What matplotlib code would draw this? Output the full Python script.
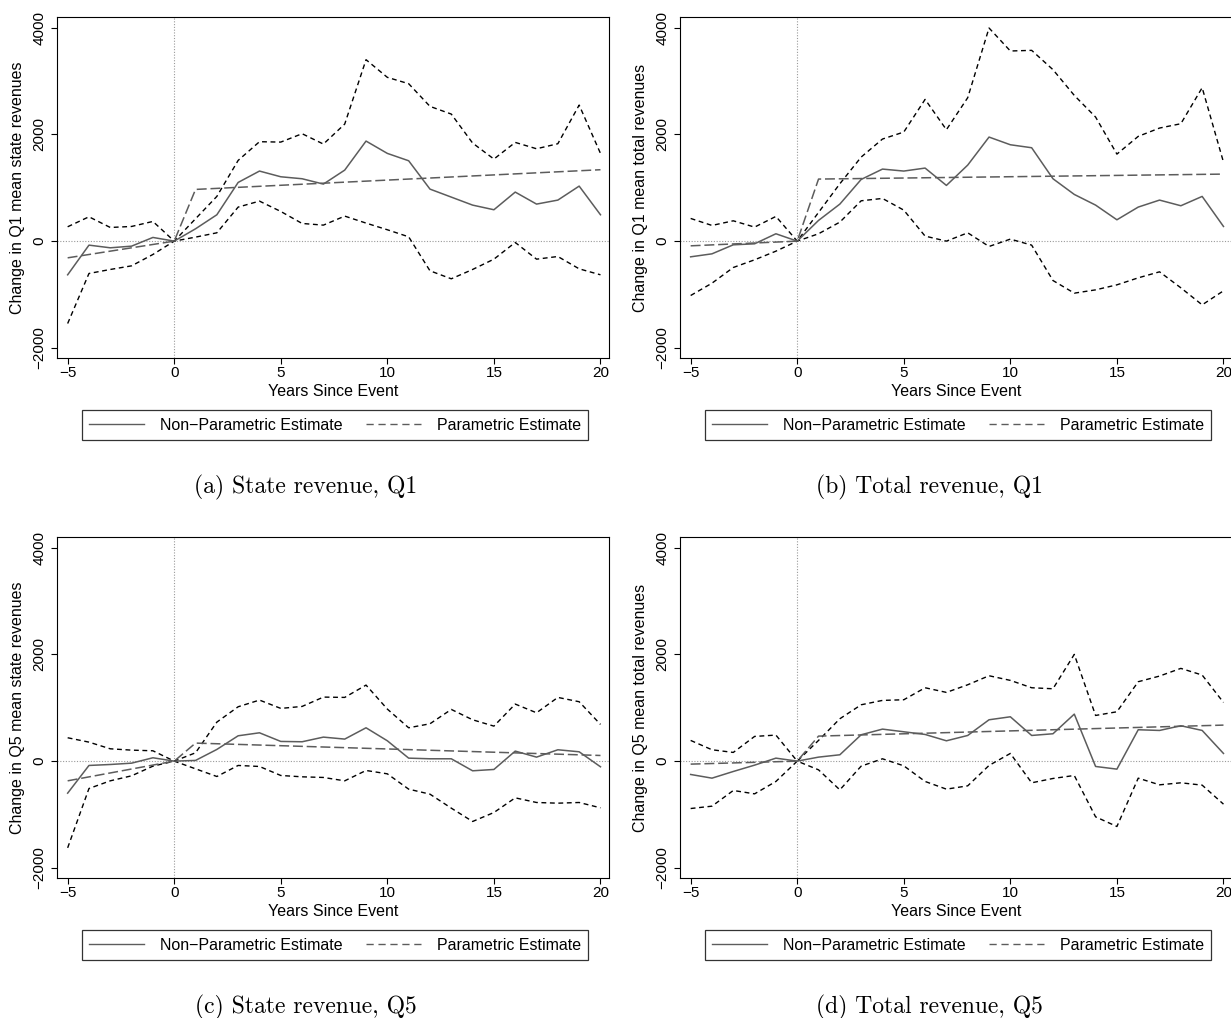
import numpy as np
import matplotlib

matplotlib.use("Agg")
import matplotlib.pyplot as plt
from matplotlib.lines import Line2D

plt.rcParams["font.family"] = ["Liberation Sans", "DejaVu Sans"]

"""
Values read off the four event-study panels
"""

years = list(range(-5, 21))
param_years = [-5, 0, 1, 20]

# (a) State revenue, Q1
a_est = [-631, -75, -125, -94, 69, 0, 231, 494, 1100, 1313, 1206, 1169, 1069,
         1331, 1875, 1644, 1506, 975, 825, 675, 588, 919, 694, 769, 1031, 494]
a_hi = [269, 456, 256, 275, 369, 0, 419, 838, 1513, 1863, 1856, 2013, 1819,
        2194, 3400, 3069, 2950, 2525, 2381, 1838, 1538, 1850, 1731, 1825, 2550, 1644]
a_lo = [-1544, -606, -531, -463, -250, 0, 75, 156, 638, 750, 556, 331, 300,
        469, 338, 213, 81, -556, -706, -531, -338, -25, -338, -288, -519, -631]
a_par = [-313, 0, 969, 1338]

# (b) Total revenue, Q1
b_est = [-294, -238, -69, -50, 138, 0, 388, 694, 1156, 1350, 1313, 1369, 1044,
         1425, 1950, 1806, 1750, 1169, 875, 675, 400, 638, 769, 663, 838, 275]
b_hi = [425, 294, 381, 263, 463, 0, 538, 1075, 1575, 1913, 2044, 2656, 2088,
        2688, 3994, 3563, 3575, 3213, 2731, 2325, 1631, 1963, 2119, 2200, 2875, 1481]
b_lo = [-1019, -788, -494, -350, -188, 0, 138, 356, 756, 800, 581, 94, 0,
        156, -100, 38, -75, -738, -975, -913, -819, -688, -575, -875, -1194, -931]
b_par = [-88, 0, 1163, 1256]

# (c) State revenue, Q5
c_est = [-600, -81, -63, -38, 63, 0, 13, 219, 475, 531, 369, 363, 450,
         413, 625, 381, 56, 44, 44, -181, -156, 188, 75, 213, 175, -106]
c_hi = [438, 356, 231, 206, 194, 0, 156, 731, 1019, 1144, 988, 1025, 1200,
        1194, 1425, 975, 625, 700, 969, 775, 656, 1069, 906, 1194, 1113, 688]
c_lo = [-1625, -513, -369, -275, -94, 0, -144, -288, -81, -100, -269, -294, -306,
        -369, -175, -238, -525, -619, -881, -1131, -963, -688, -775, -788, -775, -875]
c_par = [-369, 0, 338, 106]

# (d) Total revenue, Q5
d_est = [-250, -319, -194, -75, 56, 0, 75, 119, 494, 600, 550, 500, 381,
         481, 775, 831, 481, 513, 881, -100, -150, 588, 575, 663, 575, 144]
d_hi = [388, 213, 163, 463, 488, 0, 388, 794, 1056, 1138, 1150, 1375, 1288,
        1431, 1600, 1513, 1375, 1356, 2000, 856, 925, 1488, 1594, 1738, 1613, 1100]
d_lo = [-888, -844, -550, -613, -381, 0, -163, -538, -94, 44, -88, -381, -525,
        -463, -81, 144, -406, -325, -269, -1044, -1225, -319, -444, -406, -450, -806]
d_par = [-56, 0, 469, 675]

ylabels = [
    "Change in Q1 mean state revenues",
    "Change in Q1 mean total revenues",
    "Change in Q5 mean state revenues",
    "Change in Q5 mean total revenues",
]
captions = [
    "(a) State revenue, Q1",
    "(b) Total revenue, Q1",
    "(c) State revenue, Q5",
    "(d) Total revenue, Q5",
]

W, H = 1231, 1018
GRAY = "#5c5c5c"


def draw_panel(fig, left, top, est, hi, lo, par, ylabel, caption):
    # pixel box of the plot region
    width, height = 552, 341
    ax = fig.add_axes([left / W, 1 - (top + height) / H, width / W, height / H])

    ax.axhline(0, color="#9a9a9a", lw=0.8, ls=(0, (1, 1.5)), zorder=1)
    ax.axvline(0, color="#9a9a9a", lw=0.8, ls=(0, (1, 1.5)), zorder=1)

    ax.plot(years, hi, color="black", lw=1.0, ls=(0, (3.5, 2.6)), zorder=2)
    ax.plot(years, lo, color="black", lw=1.0, ls=(0, (3.5, 2.6)), zorder=2)
    ax.plot(years, est, color=GRAY, lw=1.1, zorder=3)
    ax.plot(param_years, par, color=GRAY, lw=1.1, ls=(0, (6.5, 2.5)), zorder=3)

    ax.set_xlim(-5.5, 20.4)
    ax.set_ylim(-2190, 4200)
    ax.set_xticks([-5, 0, 5, 10, 15, 20])
    ax.set_yticks([-2000, 0, 2000, 4000])
    ax.tick_params(direction="out", length=4.5, width=0.8, labelsize=11,
                   color="black")
    ax.tick_params(axis="x", pad=1.5)
    ax.tick_params(axis="y", pad=3)
    for lab in ax.get_yticklabels():
        lab.set_rotation(90)
        lab.set_va("center")
    for sp in ax.spines.values():
        sp.set_linewidth(0.8)

    ax.set_xlabel("Years Since Event", fontsize=11.5)
    ax.xaxis.set_label_coords(0.5, (358 - 17 - 384 + 17) / height)
    ax.set_ylabel(ylabel, fontsize=11.5)
    ax.yaxis.set_label_coords((25 - 57) / width, 0.5)

    # legend keys drawn with their own (shorter) dash pattern, as in the source
    h1 = Line2D([], [], color=GRAY, lw=1.0)
    h2 = Line2D([], [], color=GRAY, lw=1.0, ls=(0, (5.2, 3.4)))
    leg = ax.legend([h1, h2], ["Non\u2212Parametric Estimate", "Parametric Estimate"],
                    ncol=2, loc="center",
                    bbox_to_anchor=((left + 278) / W, 1 - (top + 408) / H),
                    bbox_transform=fig.transFigure, fontsize=11.5,
                    frameon=True, fancybox=False, edgecolor="black",
                    handlelength=3.4, handletextpad=1.0, columnspacing=1.5,
                    borderpad=0.45)
    leg.get_frame().set_linewidth(0.9)

    fig.text((left + 249) / W, 1 - (top + 470) / H, caption,
             family=["cmr10", "DejaVu Serif"], fontsize=17,
             ha="center", va="center")
    return ax


fig = plt.figure(figsize=(W / 100, H / 100), dpi=100)

panels = [
    (57, 17, a_est, a_hi, a_lo, a_par),
    (680, 17, b_est, b_hi, b_lo, b_par),
    (57, 537, c_est, c_hi, c_lo, c_par),
    (680, 537, d_est, d_hi, d_lo, d_par),
]
for (left, top, est, hi, lo, par), ylab, cap in zip(panels, ylabels, captions):
    draw_panel(fig, left, top, est, hi, lo, par, ylab, cap)

fig.savefig("out.png", dpi=100)
